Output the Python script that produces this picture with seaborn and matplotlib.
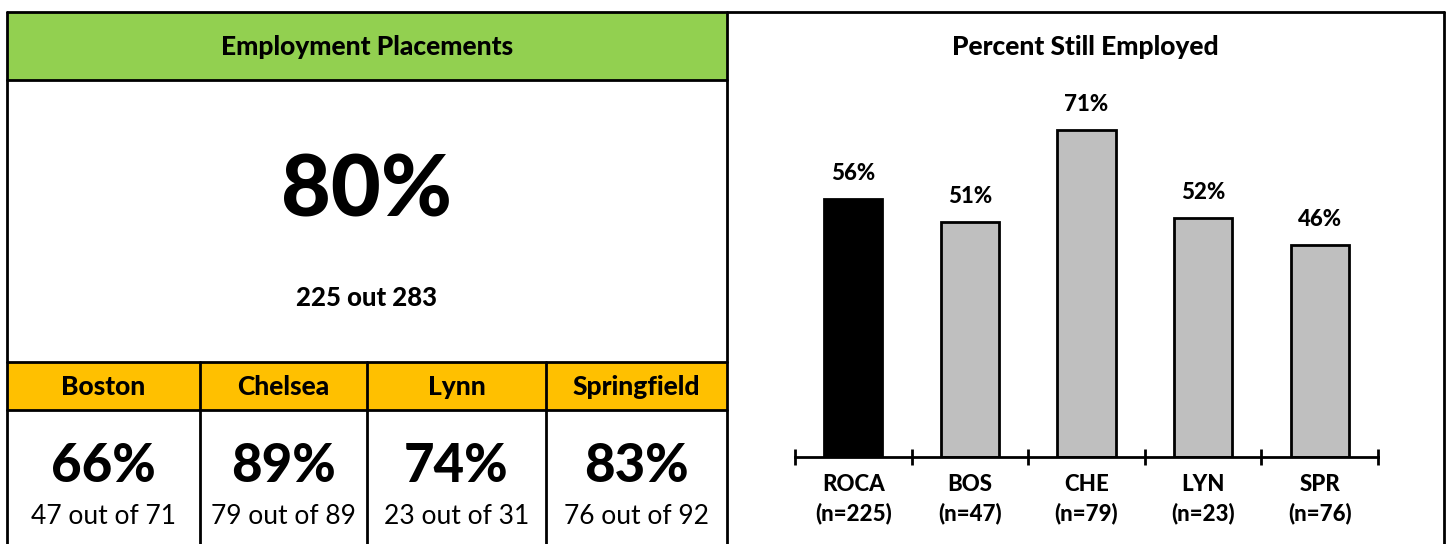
import matplotlib
matplotlib.use("Agg")
import matplotlib.pyplot as plt
from matplotlib.patches import Rectangle
import seaborn as sns
import pandas as pd

# Employment placement counts
overall_placed = 225
overall_total = 283
cities = ["Boston", "Chelsea", "Lynn", "Springfield"]
city_placed = [47, 79, 23, 76]
city_total = [71, 89, 31, 92]

# Percent still employed by site
sites = ["ROCA", "BOS", "CHE", "LYN", "SPR"]
site_n = [225, 47, 79, 23, 76]
still_employed = [56, 51, 71, 52, 46]

GREEN = "#92d050"
GOLD = "#ffc000"
GRAY = "#bfbfbf"
FONT = "Lato"
BOLD = 900

sns.set_theme(style="white")
plt.rcParams["font.family"] = [FONT, "DejaVu Sans"]
plt.rcParams["text.color"] = "black"
plt.rcParams["xtick.labelcolor"] = "black"

W, H = 1447, 544
fig = plt.figure(figsize=(W / 100, H / 100), dpi=100)

# Canvas axes in pixel units for the table panel and frames
bg = fig.add_axes([0, 0, 1, 1], zorder=0)
bg.set_xlim(0, W)
bg.set_ylim(H, 0)
bg.axis("off")

LW = 2.0
x0, x1, x2 = 7, 727, 1444
ytop = 12
y_head = 80
y_city = 362
y_city2 = 410
col_edges = [7, 200, 367, 546, 727]

bg.add_patch(Rectangle((x0, ytop), x1 - x0, y_head - ytop, facecolor=GREEN, edgecolor="none"))
bg.add_patch(Rectangle((x0, y_city), x1 - x0, y_city2 - y_city, facecolor=GOLD, edgecolor="none"))

# frame lines
bg.plot([x0, x2], [ytop, ytop], color="black", lw=LW)
bg.plot([x0, x0], [ytop, H], color="black", lw=LW)
bg.plot([x1, x1], [ytop, H], color="black", lw=LW)
bg.plot([x2, x2], [ytop, H], color="black", lw=LW)
for yy in (y_head, y_city, y_city2):
    bg.plot([x0, x1], [yy, yy], color="black", lw=LW)
for xx in col_edges[1:-1]:
    bg.plot([xx, xx], [y_city, H], color="black", lw=LW)

cx_left = (x0 + x1) / 2
bg.text(cx_left, 47, "Employment Placements", ha="center", va="center",
        fontsize=19, fontweight=BOLD)
overall_pct = round(100 * overall_placed / overall_total)
bg.text(cx_left, 192, f"{overall_pct}%", ha="center", va="center",
        fontsize=62, fontweight=BOLD)
bg.text(cx_left, 298, f"{overall_placed} out {overall_total}", ha="center", va="center",
        fontsize=18.5, fontweight=BOLD)

for i, city in enumerate(cities):
    cx = (col_edges[i] + col_edges[i + 1]) / 2
    bg.text(cx, 387, city, ha="center", va="center", fontsize=19, fontweight=BOLD)
    pct = round(100 * city_placed[i] / city_total[i])
    bg.text(cx, 466, f"{pct}%", ha="center", va="center", fontsize=38, fontweight=BOLD)
    bg.text(cx, 517, f"{city_placed[i]} out of {city_total[i]}", ha="center", va="center",
            fontsize=19)

bg.text((x1 + x2) / 2, 47, "Percent Still Employed", ha="center", va="center",
        fontsize=19, fontweight=BOLD)

# Bar chart
ax = fig.add_axes([795 / W, (H - 457) / H, (1378 - 795) / W, 368 / H], zorder=1)
ax.patch.set_alpha(0)
df = pd.DataFrame({"site": sites, "pct": still_employed})
colors = ["black"] + [GRAY] * (len(sites) - 1)
sns.barplot(data=df, x="site", y="pct", hue="site", palette=colors, legend=False,
            width=0.5, edgecolor="black", linewidth=2, ax=ax, saturation=1)
for cont in ax.containers:
    ax.bar_label(cont, fmt="%d%%", padding=11, fontsize=16, fontweight=BOLD)

ax.set_xlim(-0.5, len(sites) - 0.5)
ax.set_ylim(0, 80)
ax.set_yticks([])
ax.set_xlabel("")
ax.set_ylabel("")
for s in ("top", "left", "right"):
    ax.spines[s].set_visible(False)
ax.spines["bottom"].set_linewidth(2)
ax.spines["bottom"].set_color("black")

ax.set_xticks(range(len(sites)))
ax.set_xticklabels([f"{s}\n(n={n})" for s, n in zip(sites, site_n)],
                   fontsize=16, fontweight=BOLD, linespacing=1.45)
ax.tick_params(axis="x", which="major", length=0, pad=12)
ax.set_xticks([i - 0.5 for i in range(len(sites) + 1)], minor=True)
ax.tick_params(axis="x", which="minor", direction="inout", length=12, width=2,
               color="black", bottom=True)

fig.savefig("out.png", dpi=100)
